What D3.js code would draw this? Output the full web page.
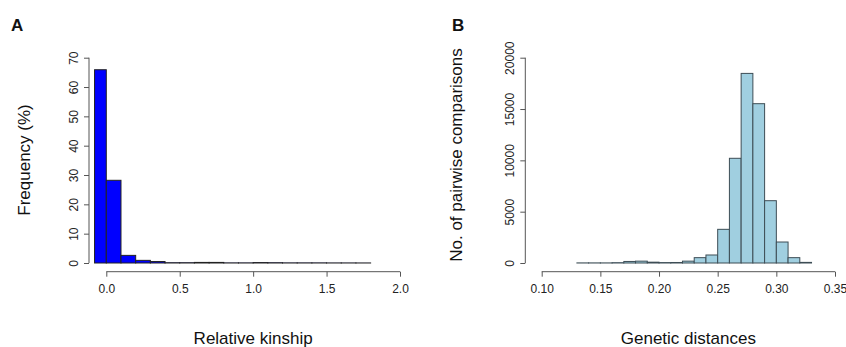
<!DOCTYPE html>
<html>
<head>
<meta charset="utf-8">
<script src="https://cdn.jsdelivr.net/npm/d3@7"></script>
<style>
  body { margin: 0; background: #fff; }
  svg { font-family: "Liberation Sans", Arial, sans-serif; }
</style>
</head>
<body>
<svg id="chart" width="846" height="347"></svg>
<script>
// panel A: relative kinship histogram (percent)
var kinshipBreaks = [-0.08, 0, 0.1, 0.2, 0.3, 0.4, 0.5, 0.6, 0.7, 0.8, 0.9, 1.0, 1.1, 1.2, 1.3, 1.4, 1.5, 1.6, 1.7, 1.8];
var kinshipFreq = [65.9, 28.2, 2.6, 0.9, 0.5, 0.1, 0.1, 0.2, 0.2, 0.05, 0.05, 0.15, 0.1, 0.05, 0.05, 0.05, 0.03, 0.03, 0.02];
var kinshipXTicks = [0, 0.5, 1.0, 1.5, 2.0];
var kinshipYTicks = [0, 10, 20, 30, 40, 50, 60, 70];

// panel B: genetic distances histogram (counts)
var distBreaks = [0.13, 0.14, 0.15, 0.16, 0.17, 0.18, 0.19, 0.20, 0.21, 0.22, 0.23, 0.24, 0.25, 0.26, 0.27, 0.28, 0.29, 0.30, 0.31, 0.32, 0.33];
var distCounts = [10, 10, 10, 30, 150, 180, 80, 40, 50, 180, 520, 780, 3280, 10200, 18470, 15520, 6070, 2045, 520, 60];
var distXTicks = [0.10, 0.15, 0.20, 0.25, 0.30, 0.35];
var distYTicks = [0, 5000, 10000, 15000, 20000];

var svg = d3.select("#chart");

function drawPanel(opt) {
  var g = svg.append("g");
  var x = d3.scaleLinear().domain(opt.xDomain).range(opt.xRange);
  var y = d3.scaleLinear().domain(opt.yDomain).range([263, 57.7]);

  // bars
  g.selectAll("rect.bar")
    .data(opt.values)
    .enter()
    .append("rect")
    .attr("class", "bar")
    .attr("x", function (d, i) { return x(opt.breaks[i]); })
    .attr("width", function (d, i) { return x(opt.breaks[i + 1]) - x(opt.breaks[i]); })
    .attr("y", function (d) { return y(d); })
    .attr("height", function (d) { return y(0) - y(d); })
    .attr("fill", opt.fill)
    .attr("stroke", opt.stroke)
    .attr("stroke-width", 1);

  // x axis (R style, offset below the bars)
  var xa = g.append("g")
    .attr("transform", "translate(0,271.7)")
    .call(d3.axisBottom(x).tickValues(opt.xTicks).tickFormat(opt.xFmt).tickSize(5).tickSizeOuter(0));
  xa.select(".domain").attr("stroke", "#555")
    .attr("d", "M" + x(opt.xTicks[0]) + ",0H" + x(opt.xTicks[opt.xTicks.length - 1]));
  xa.selectAll(".tick line").attr("stroke", "#555");
  xa.selectAll(".tick text").attr("font-size", 12).attr("fill", "#222").attr("dy", "1.15em");

  // y axis, labels rotated like R
  var ya = g.append("g")
    .attr("transform", "translate(" + opt.yAxisX + ",0)")
    .call(d3.axisLeft(y).tickValues(opt.yTicks).tickSize(5).tickSizeOuter(0).tickFormat(d3.format("d")));
  ya.select(".domain").attr("stroke", "#555")
    .attr("d", "M0," + y(opt.yTicks[0]) + "V" + y(opt.yTicks[opt.yTicks.length - 1]));
  ya.selectAll(".tick line").attr("stroke", "#555");
  ya.selectAll(".tick text")
    .attr("font-size", 12).attr("fill", "#222")
    .attr("x", 0).attr("dy", 0)
    .attr("text-anchor", "middle")
    .attr("transform", "translate(-11,0) rotate(-90)");

  // titles
  g.append("text")
    .attr("x", (opt.xRange[0] + x(opt.xTicks[opt.xTicks.length - 1])) / 2)
    .attr("y", 344)
    .attr("text-anchor", "middle")
    .attr("font-size", 17)
    .attr("fill", "#111")
    .text(opt.xLabel);

  g.append("text")
    .attr("transform", "translate(" + opt.yLabelX + "," + opt.yLabelY + ") rotate(-90)")
    .attr("text-anchor", "middle")
    .attr("font-size", 17)
    .attr("fill", "#111")
    .text(opt.yLabel);

  g.append("text")
    .attr("x", opt.letterX)
    .attr("y", 31)
    .attr("font-size", 17)
    .attr("font-weight", "bold")
    .attr("fill", "#111")
    .text(opt.letter);
}

drawPanel({
  breaks: kinshipBreaks, values: kinshipFreq,
  xDomain: [0, 2], xRange: [106.3, 400],
  yDomain: [0, 70], yAxisX: 89,
  xTicks: kinshipXTicks, yTicks: kinshipYTicks,
  xFmt: d3.format(".1f"),
  fill: "#0000ff", stroke: "#222",
  xLabel: "Relative kinship", yLabel: "Frequency (%)",
  yLabelX: 30, yLabelY: 160,
  letter: "A", letterX: 11
});

drawPanel({
  breaks: distBreaks, values: distCounts,
  xDomain: [0.10, 0.35], xRange: [541.7, 835],
  yDomain: [0, 20000], yAxisX: 525.3,
  xTicks: distXTicks, yTicks: distYTicks,
  xFmt: d3.format(".2f"),
  fill: "#a0cfe0", stroke: "#3d4d55",
  xLabel: "Genetic distances", yLabel: "No. of pairwise comparisons",
  yLabelX: 462, yLabelY: 155,
  letter: "B", letterX: 452
});
</script>
</body>
</html>
